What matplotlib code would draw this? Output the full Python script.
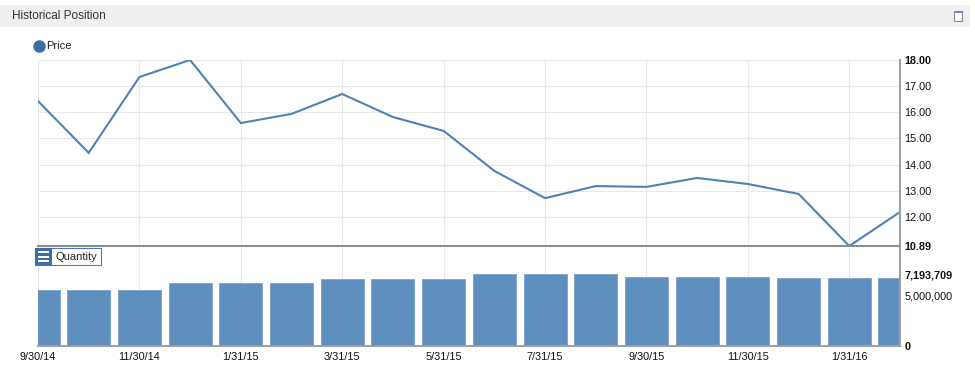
import matplotlib.pyplot as plt
from matplotlib.patches import Rectangle
from matplotlib.lines import Line2D
import numpy as np

# %% data
dates = ['9/30/14', '10/31/14', '11/30/14', '12/31/14', '1/31/15', '2/28/15',
         '3/31/15', '4/30/15', '5/31/15', '6/30/15', '7/31/15', '8/31/15',
         '9/30/15', '10/31/15', '11/30/15', '12/31/15', '1/31/16', '2/29/16']
price = [16.43, 14.45, 17.35, 18.00, 15.59, 15.94, 16.70, 15.82, 15.29,
         13.76, 12.72, 13.18, 13.15, 13.49, 13.26, 12.88, 10.89, 12.19]
quantity = [5600000, 5600000, 5600000, 6300000, 6300000, 6300000,
            6650000, 6650000, 6650000, 7193709, 7193709, 7193709,
            6900000, 6900000, 6900000, 6800000, 6800000, 6800000]

W, H = 975, 367
line_col = '#4f81b5'
bar_col = '#5f8fbf'
grid_col = '#e8e8e8'
axis_col = '#a0a0a0'

plt.rcParams['font.family'] = ['Liberation Sans', 'DejaVu Sans']

fig = plt.figure(figsize=(W / 100, H / 100), dpi=100)

def px(x0, y0, x1, y1):
    # pixel box (top-left origin) -> figure fraction
    return [x0 / W, 1 - y1 / H, (x1 - x0) / W, (y1 - y0) / H]

# %% header bar
hdr = fig.add_axes(px(0, 5, 970, 27))
hdr.set_xlim(0, 1); hdr.set_ylim(0, 1); hdr.axis('off')
hdr.add_patch(Rectangle((0, 0), 1, 1, facecolor='#efefef', edgecolor='none'))
fig.text(12 / W, 1 - 16 / H, 'Historical Position', fontsize=8.5, color='#333333', va='center')
fig.patches.append(Rectangle((954 / W, 1 - 21 / H), 8 / W, 10 / H, transform=fig.transFigure,
                             facecolor='white', edgecolor='#7a8aa8', lw=0.8))
fig.patches.append(Rectangle((954 / W, 1 - 13 / H), 8 / W, 2 / H, transform=fig.transFigure,
                             facecolor='#7a8aa8', edgecolor='none'))

# legend "Price"
fig.lines.append(Line2D([39 / W], [1 - 46 / H], transform=fig.transFigure, marker='o',
                        markersize=8, color='#3a6ea5', linestyle='none'))
fig.text(46 / W, 1 - 46 / H, 'Price', fontsize=8, color='#222222', va='center')

x = np.arange(len(dates))

# %% price panel
ax = fig.add_axes(px(38, 60, 900, 246))
ax.plot(x, price, color=line_col, lw=1.5, solid_joinstyle='miter')
ax.set_xlim(0, len(dates) - 1)
ax.set_ylim(10.89, 18.0)
ax.set_xticks(x[::2])
ax.set_xticklabels([])
ax.tick_params(axis='x', length=0)
ax.yaxis.tick_right()
ax.set_yticks([10.89, 12, 13, 14, 15, 16, 17, 18])
ax.set_yticklabels(['10.89', '12.00', '13.00', '14.00', '15.00', '16.00', '17.00', '18.00'])
ax.tick_params(axis='y', length=0, pad=3, labelsize=7.8, labelcolor='#111111')
for lab in ax.get_yticklabels():
    if lab.get_text() in ('10.89', '18.00'):
        lab.set_fontweight('bold')
ax.grid(True, color=grid_col, lw=0.8)
ax.set_axisbelow(True)
for s in ['top', 'left']:
    ax.spines[s].set_visible(False)
ax.spines['right'].set_color(axis_col)
ax.spines['right'].set_linewidth(1.5)
ax.spines['bottom'].set_color('#8c8c8c')
ax.spines['bottom'].set_linewidth(1.5)

# %% quantity panel
bx = fig.add_axes(px(38, 248, 900, 346))
bx.bar(x, quantity, width=0.85, color=bar_col, edgecolor='#7aa3cc', lw=0.6)
bx.set_xlim(0, len(dates) - 1)
bx.set_ylim(0, 7193709 * 98 / 72)
bx.set_xticks(x[::2])
bx.set_xticklabels(dates[::2], fontsize=7.8, color='#111111')
bx.tick_params(axis='x', length=0, pad=4)
bx.yaxis.tick_right()
bx.set_yticks([0, 5000000, 7193709])
bx.set_yticklabels(['0', '5,000,000', '7,193,709'])
bx.tick_params(axis='y', length=0, pad=3, labelsize=7.8, labelcolor='#111111')
for lab in bx.get_yticklabels():
    if lab.get_text() != '5,000,000':
        lab.set_fontweight('bold')
bx.grid(True, axis='x', color=grid_col, lw=0.8)
bx.set_axisbelow(True)
for s in ['top', 'left']:
    bx.spines[s].set_visible(False)
bx.spines['right'].set_color(axis_col)
bx.spines['right'].set_linewidth(1.5)
bx.spines['bottom'].set_color(axis_col)
bx.spines['bottom'].set_linewidth(1.5)

# "Quantity" label box
fig.patches.append(Rectangle((35 / W, 1 - 265 / H), 66 / W, 17 / H, transform=fig.transFigure,
                             facecolor='white', edgecolor='#4a7ab0', lw=0.8))
fig.patches.append(Rectangle((35 / W, 1 - 265 / H), 17 / W, 17 / H, transform=fig.transFigure,
                             facecolor='#3a6ea5', edgecolor='none'))
for yy in (252, 256.5, 261):
    fig.patches.append(Rectangle((38 / W, 1 - (yy + 1) / H), 11 / W, 2 / H, transform=fig.transFigure,
                                 facecolor='white', edgecolor='none'))
fig.text(56 / W, 1 - 257 / H, 'Quantity', fontsize=8, color='#222222', va='center')

fig.savefig('out.png', dpi=100)
